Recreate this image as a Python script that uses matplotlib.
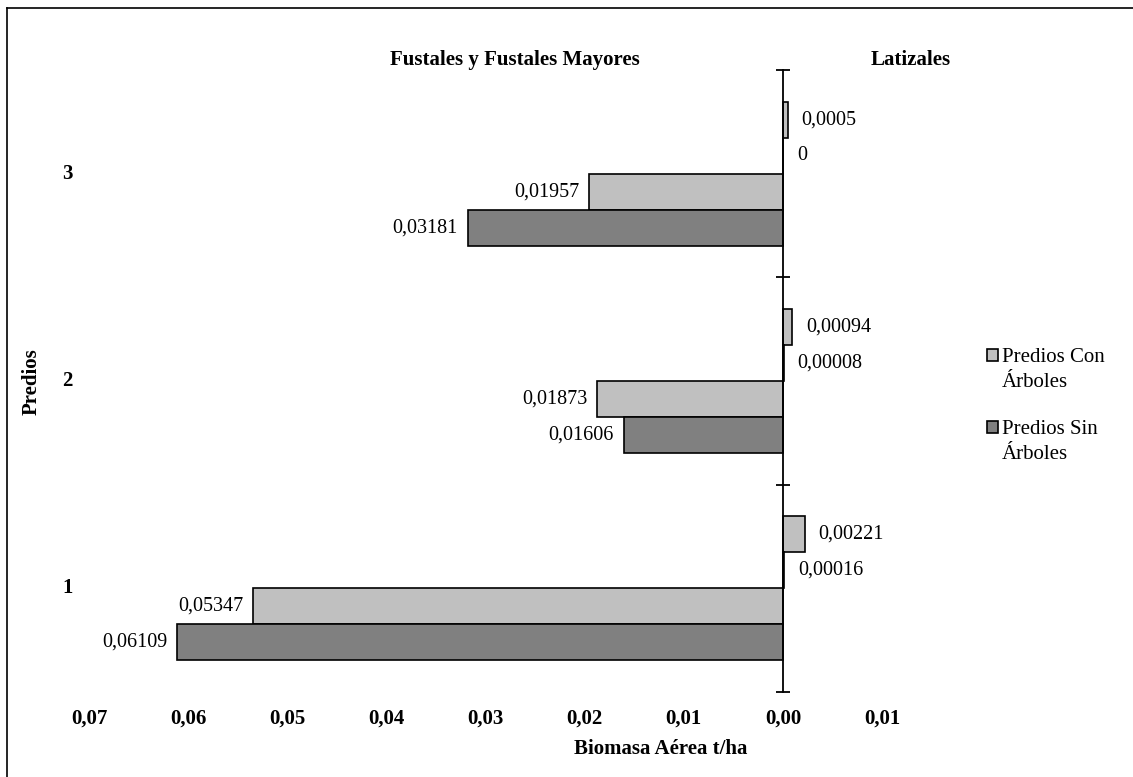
import matplotlib
matplotlib.use("Agg")
import matplotlib.pyplot as plt
import numpy as np
from matplotlib.patches import Rectangle
from matplotlib.lines import Line2D

plt.rcParams['font.family'] = ['Liberation Serif', 'DejaVu Serif']

# ---- data ----
predios = [1, 2, 3]
fustales_con = [0.05347, 0.01873, 0.01957]
fustales_sin = [0.06109, 0.01606, 0.03181]
latizales_con = [0.00221, 0.00094, 0.0005]
latizales_sin = [0.00016, 0.00008, 0.0]
x_ticks = [-0.07, -0.06, -0.05, -0.04, -0.03, -0.02, -0.01, 0.0, 0.01]
x_tick_labels = ["0,07", "0,06", "0,05", "0,04", "0,03", "0,02", "0,01", "0,00", "0,01"]
series_names = ["Predios Con\nÁrboles", "Predios Sin\nÁrboles"]

c_light = "#c0c0c0"
c_dark = "#808080"

W, H = 1133, 777
fig = plt.figure(figsize=(W / 100, H / 100), dpi=100)
ax = fig.add_axes([89 / W, 1 - 692 / H, (882 - 89) / W, (692 - 70) / H])

h = 0.1735
y = np.array(predios, dtype=float)


def fmt(v):
    return np.format_float_positional(v, trim='-').replace(".", ",")


# latizales to the right (positive), fustales to the left (negative)
bars = [
    (latizales_con, 1.5, c_light, 1),
    (latizales_sin, 0.5, c_dark, 1),
    (fustales_con, -0.5, c_light, -1),
    (fustales_sin, -1.5, c_dark, -1),
]
for vals, off, col, sign in bars:
    vals = np.array(vals)
    ax.barh(y + off * h, sign * vals, height=h, color=col,
            edgecolor="black", linewidth=1.2)
    for yi, v in zip(y + off * h, vals):
        if sign > 0:
            ax.annotate(fmt(v), (v, yi), xytext=(10, 0), textcoords="offset points",
                        ha="left", va="center", fontsize=14.5)
        else:
            ax.annotate(fmt(v), (-v, yi), xytext=(-7, 0), textcoords="offset points",
                        ha="right", va="center", fontsize=14.5)

ax.set_xlim(-0.07, 0.01)
ax.set_ylim(0.5, 3.5)

for s in ["top", "right", "bottom"]:
    ax.spines[s].set_visible(False)
ax.spines["left"].set_position(("data", 0))
ax.spines["left"].set_linewidth(1.3)

ax.set_yticks([0.5, 1.5, 2.5, 3.5])
ax.set_yticklabels([])
ax.tick_params(axis="y", direction="inout", length=9.5, width=1.3)
ax.set_xticks(x_ticks)
ax.set_xticklabels(x_tick_labels, fontweight="bold", fontsize=15)
ax.tick_params(axis="x", length=0, pad=12)

# category labels at the far left
for p in predios:
    ax.text(-0.0722, p, str(p), ha="center", va="center",
            fontweight="bold", fontsize=15)

fig.text(661 / W, 1 - 749 / H, "Biomasa Aérea t/ha", ha="center", va="center",
         fontweight="bold", fontsize=15)
fig.text(32 / W, 1 - 382 / H, "Predios", rotation=90, ha="center", va="center",
         fontweight="bold", fontsize=15)

ax.text(-0.027, 3.5, "Fustales y Fustales Mayores", ha="center", va="bottom",
        fontweight="bold", fontsize=15)
ax.text(0.0129, 3.5, "Latizales", ha="center", va="bottom",
        fontweight="bold", fontsize=15)

# legend: square marker aligned with the first line of each label
legend_y = [355, 427]
for name, col, ly in zip(series_names, [c_light, c_dark], legend_y):
    fig.add_artist(Rectangle((987 / W, 1 - (ly + 6) / H), 11 / W, 12 / H,
                             facecolor=col, edgecolor="black", lw=1.2,
                             transform=fig.transFigure))
    fig.text(1002 / W, 1 - (ly - 7) / H, name, ha="left", va="top",
             fontsize=15, linespacing=1.45)

# outer frame (left and top edges visible)
fig.add_artist(Line2D([7 / W, 7 / W], [0, 1 - 8 / H], color="black", lw=1.2))
fig.add_artist(Line2D([7 / W, 1], [1 - 8 / H, 1 - 8 / H], color="black", lw=1.2))

fig.savefig("out.png", dpi=100)
